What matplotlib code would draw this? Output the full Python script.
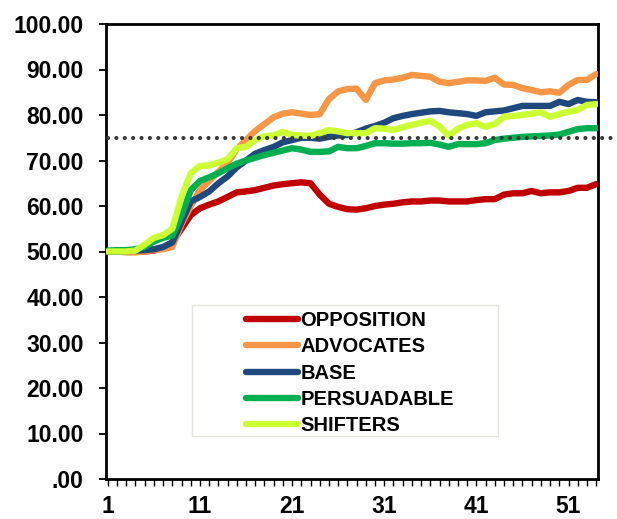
import matplotlib
matplotlib.use("Agg")
import matplotlib.pyplot as plt
from matplotlib.patches import Rectangle

plt.rcParams['font.family'] = ['Liberation Sans', 'DejaVu Sans']
plt.rcParams['font.weight'] = 'bold'

# Weeks 1..54
weeks = list(range(1, 55))

opposition = [50, 50, 50, 50, 50, 50.2, 50.8, 52, 55, 58,
              59.5, 60.3, 61, 62, 63, 63.2, 63.5, 64, 64.5, 64.8,
              65, 65.2, 65, 62.5, 60.5, 59.8, 59.3, 59.2, 59.5, 60,
              60.3, 60.5, 60.8, 61, 61, 61.2, 61.2, 61, 61, 61,
              61.3, 61.5, 61.5, 62.5, 62.8, 62.8, 63.3, 62.8, 63, 63,
              63.3, 64, 64, 64.8]
advocates = [50, 50, 49.8, 49.8, 50, 50.3, 50.5, 51, 56, 60,
             63.5, 65.5, 67.5, 69.5, 72.5, 74.5, 76.5, 78, 79.5, 80.3,
             80.6, 80.3, 80, 80.2, 83.5, 85.2, 85.7, 85.8, 83.3, 87,
             87.6, 87.8, 88.2, 88.8, 88.6, 88.4, 87.3, 87, 87.3, 87.6,
             87.6, 87.5, 88.2, 86.7, 86.6, 85.9, 85.5, 85, 85.2, 84.9,
             86.6, 87.7, 87.7, 89]
base = [50, 50, 50, 50.2, 50.3, 50.5, 51, 52, 56.5, 61,
        62, 63.2, 65, 66.5, 68.5, 70, 71.5, 72.3, 73, 74,
        74.5, 75, 75, 74.8, 75.2, 75.5, 75.6, 76.2, 77, 77.6,
        78.3, 79.3, 79.8, 80.2, 80.5, 80.8, 80.9, 80.6, 80.4, 80.2,
        79.8, 80.6, 80.8, 81, 81.5, 82, 82, 82, 82, 82.9,
        82.4, 83.3, 82.9, 82.8]
persuadable = [50.2, 50.3, 50.3, 50.5, 51, 52.2, 53, 53.5, 58, 63.5,
               65.5, 66.3, 67.2, 68.3, 69.3, 70, 70.6, 71.2, 71.7, 72.2,
               72.7, 72.4, 71.9, 71.9, 72, 73, 72.7, 72.7, 73.2, 73.8,
               73.8, 73.7, 73.7, 73.8, 73.8, 73.9, 73.5, 73, 73.6, 73.6,
               73.6, 73.8, 74.5, 74.8, 75, 75.2, 75.3, 75.4, 75.5, 75.7,
               76.3, 76.9, 77.1, 77.1]
shifters = [50, 50, 50, 50.2, 51.5, 53, 53.6, 55, 62, 67.2,
            68.8, 68.9, 69.5, 70.3, 72.7, 73, 74.5, 75.3, 75.5, 76.3,
            75.6, 75.5, 75.4, 76, 76.7, 76.4, 76, 76, 76, 77.1,
            77, 76.7, 77.3, 77.8, 78.3, 78.7, 77.5, 75.4, 77, 77.8,
            78.2, 77.4, 78, 79.6, 79.8, 80, 80.3, 80.6, 79.6, 80.2,
            80.7, 81.1, 82.2, 82.4]

series_names = ['OPPOSITION', 'ADVOCATES', 'BASE', 'PERSUADABLE', 'SHIFTERS']
series_colors = ['#C00000', '#F79646', '#1F497D', '#00B050', '#CCFF33']

target_level = 75
target_x = [1, 56.5]

y_ticks = [0, 10, 20, 30, 40, 50, 60, 70, 80, 90, 100]
x_labels = [1, 11, 21, 31, 41, 51]

fig = plt.figure(figsize=(6.17, 5.19), dpi=100)
ax = fig.add_axes([106 / 617, 1 - 479 / 519, 492 / 617, 455 / 519])

handles = []
for vals, name, col in zip([opposition, advocates, base, persuadable, shifters],
                           series_names, series_colors):
    ln, = ax.plot(weeks, vals, color=col, lw=4.6, label=name,
                  solid_joinstyle='round', solid_capstyle='round', zorder=3)
    handles.append(ln)

# dotted reference line running past the right edge
ax.plot(target_x, [target_level, target_level], color='#3a3a3a', lw=3.0,
        linestyle=(0, (0.01, 2.0)), dash_capstyle='round', clip_on=False, zorder=5)

ax.set_xlim(0.8, 54.2)
ax.set_ylim(0, 100)
ax.set_yticks(y_ticks)
ax.set_yticklabels([('%.2f' % v).lstrip('0') if v == 0 else '%.2f' % v for v in y_ticks])
ax.set_xticks(x_labels)
ax.set_xticklabels([str(v) for v in x_labels])
ax.set_xticks(weeks, minor=True)

ax.tick_params(axis='both', labelsize=16.5, width=1.3, color='black')
ax.tick_params(axis='y', length=5, pad=11)
ax.tick_params(axis='x', which='both', length=5, pad=6.5, width=1.0)
for lab in ax.get_xticklabels() + ax.get_yticklabels():
    lab.set_fontweight('bold')
for sp in ax.spines.values():
    sp.set_linewidth(2.0)
    sp.set_color('black')

# legend frame drawn separately (wide empty margin on the left like the original)
fig.patches.append(Rectangle((192 / 617, 1 - 436 / 519), 306 / 617, 131 / 519,
                             transform=fig.transFigure, facecolor='white',
                             edgecolor='#e4e4da', lw=1.0, zorder=1))
leg = fig.legend(handles=handles, loc='upper left', bbox_to_anchor=(236 / 617, 1 - 301 / 519),
                 frameon=False, borderpad=0, handlelength=2.6, handletextpad=0.1,
                 labelspacing=0.36, prop={'family': 'Liberation Sans', 'weight': 'bold', 'size': 14.5})
leg.set_zorder(6)

fig.savefig('out.png', dpi=100)
